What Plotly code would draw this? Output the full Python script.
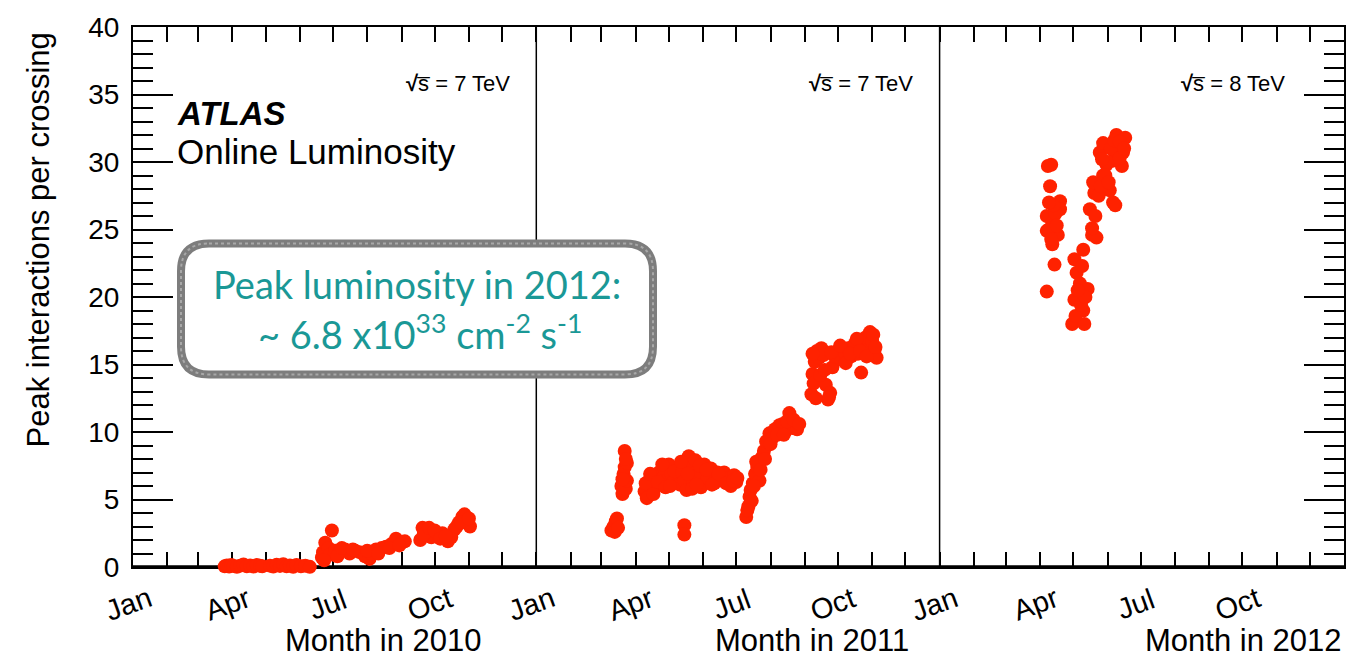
import pandas as pd
import plotly.graph_objects as go

# ---------------------------------------------------------------------------
# Peak number of interactions per bunch crossing (online luminosity)
# ---------------------------------------------------------------------------
years = [2010, 2011, 2012]
energies = ["7", "7", "8"]
month_labels = ["Jan", "Apr", "Jul", "Oct"]

dates_2010 = [
    "2010-03-25", "2010-03-27", "2010-03-29", "2010-03-31", "2010-04-02", "2010-04-05", "2010-04-08",
    "2010-04-11", "2010-04-14", "2010-04-17", "2010-04-20", "2010-04-23", "2010-04-26", "2010-04-28",
    "2010-05-05", "2010-05-08", "2010-05-11", "2010-05-14", "2010-05-17", "2010-05-20", "2010-05-23",
    "2010-05-26", "2010-05-29", "2010-06-02", "2010-06-06", "2010-06-10",
    "2010-06-21", "2010-06-22", "2010-06-24", "2010-06-27", "2010-06-28", "2010-06-30", "2010-07-03",
    "2010-07-07", "2010-07-12", "2010-07-16", "2010-07-21", "2010-07-25", "2010-07-30", "2010-08-03",
    "2010-08-05", "2010-08-09", "2010-08-14", "2010-08-18", "2010-08-23", "2010-08-27", "2010-09-01",
    "2010-09-04",
    "2010-09-18", "2010-09-20", "2010-09-24", "2010-09-28", "2010-10-04", "2010-10-08", "2010-10-13",
    "2010-10-16", "2010-10-19", "2010-10-23", "2010-10-26", "2010-10-28", "2010-10-30", "2010-11-02",
    "2010-06-23", "2010-07-05", "2010-07-09", "2010-07-19", "2010-08-01", "2010-08-11", "2010-08-21",
    "2010-08-30", "2010-09-21", "2010-09-26", "2010-10-01", "2010-10-06", "2010-10-11", "2010-10-21",
    "2010-10-25", "2010-11-01",
]
mu_2010 = [
    0.05, 0.12, 0.03, 0.15, 0.08, 0.02, 0.10,
    0.18, 0.06, 0.12, 0.04, 0.14, 0.09, 0.05,
    0.10, 0.03, 0.16, 0.08, 0.20, 0.05, 0.12,
    0.02, 0.15, 0.06, 0.10, 0.01,
    0.7, 1.1, 1.8, 1.4, 0.9, 2.7, 1.2,
    1.1, 1.3, 1.0, 1.2, 1.1, 0.8, 0.6,
    1.0, 1.3, 1.4, 1.5, 1.7, 2.1, 1.8,
    1.9,
    2.0, 2.9, 2.6, 2.2, 2.4, 2.5, 1.9,
    2.2, 2.8, 3.3, 3.7, 3.9, 3.4, 3.0,
    0.5, 0.8, 1.4, 1.3, 1.2, 1.0, 1.4,
    1.6, 2.4, 2.9, 2.7, 2.1, 2.3, 3.0,
    3.3, 3.6,
]

dates_2011 = [
    "2011-03-10", "2011-03-12", "2011-03-13", "2011-03-14", "2011-03-15", "2011-03-16",
    "2011-03-19", "2011-03-20", "2011-03-21", "2011-03-22", "2011-03-22", "2011-03-23", "2011-03-24",
    "2011-03-24",
    "2011-04-09", "2011-04-11", "2011-04-13", "2011-04-15", "2011-04-18", "2011-04-20", "2011-04-22",
    "2011-04-24", "2011-04-27", "2011-04-29", "2011-05-01", "2011-05-03", "2011-05-05", "2011-05-06",
    "2011-05-15", "2011-05-15",
    "2011-05-11", "2011-05-13", "2011-05-15", "2011-05-17", "2011-05-19", "2011-05-21", "2011-05-23",
    "2011-05-25", "2011-05-28", "2011-05-30", "2011-06-02", "2011-06-05", "2011-06-08", "2011-06-11",
    "2011-06-14", "2011-06-17", "2011-06-20", "2011-06-23", "2011-06-26", "2011-06-29", "2011-07-01",
    "2011-07-10", "2011-07-12", "2011-07-13", "2011-07-14", "2011-07-15", "2011-07-16", "2011-07-18",
    "2011-07-20", "2011-07-22", "2011-07-24", "2011-07-26", "2011-07-28", "2011-07-31", "2011-08-03",
    "2011-08-05", "2011-08-09", "2011-08-12", "2011-08-15", "2011-08-18", "2011-08-21", "2011-08-25",
    "2011-09-07", "2011-09-08", "2011-09-09", "2011-09-10", "2011-09-12", "2011-09-14", "2011-09-16",
    "2011-09-18", "2011-09-20", "2011-09-22", "2011-09-24", "2011-09-26", "2011-09-28", "2011-10-01",
    "2011-10-04", "2011-10-07", "2011-10-10", "2011-10-13", "2011-10-16", "2011-10-19", "2011-10-22",
    "2011-10-24", "2011-10-26", "2011-10-28", "2011-10-30", "2011-11-01", "2011-11-03", "2011-11-05",
    "2011-03-20", "2011-03-23", "2011-04-10", "2011-04-14", "2011-04-17", "2011-04-21", "2011-04-25",
    "2011-04-28", "2011-05-02", "2011-05-12", "2011-05-18", "2011-05-22", "2011-05-26", "2011-05-29",
    "2011-06-04", "2011-06-09", "2011-06-15", "2011-06-22", "2011-06-28", "2011-07-02",
    "2011-07-11", "2011-07-17", "2011-07-19", "2011-07-23", "2011-07-27", "2011-08-01", "2011-08-07",
    "2011-08-13", "2011-08-16", "2011-08-22", "2011-08-27",
    "2011-09-08", "2011-09-11", "2011-09-15", "2011-09-19", "2011-09-23", "2011-09-25", "2011-10-03",
    "2011-10-08", "2011-10-12", "2011-10-18", "2011-10-21", "2011-10-27", "2011-11-02", "2011-11-04",
]
mu_2011 = [
    2.7, 3.0, 2.6, 3.4, 3.6, 2.9,
    6.0, 5.4, 6.9, 8.6, 7.4, 5.8, 7.7,
    6.4,
    5.6, 5.1, 6.4, 5.8, 6.8, 6.0, 7.0,
    6.5, 7.3, 6.4, 7.6, 6.9, 6.3, 7.1,
    3.1, 2.4,
    6.1, 7.0, 6.4, 5.7, 8.2, 7.4, 6.3,
    7.9, 6.8, 5.9, 7.6, 6.6, 7.3, 6.2,
    7.0, 6.4, 7.0, 6.6, 6.0, 6.8, 6.3,
    3.7, 4.5, 5.2, 5.7, 4.9, 6.2, 6.9,
    7.4, 6.4, 8.1, 8.6, 9.3, 9.9, 9.6,
    10.2, 10.5, 10.6, 10.1, 11.4, 10.3, 10.2,
    12.8, 14.3, 13.6, 15.2, 16.0, 15.5, 16.2,
    15.7, 13.5, 12.4, 12.9, 14.8, 15.6, 16.0,
    15.4, 15.9, 16.2, 15.6, 16.5, 15.8, 14.4,
    16.4, 17.0, 16.1, 17.4, 16.7, 16.0, 15.5,
    6.5, 8.0, 6.2, 6.9, 5.4, 6.3, 7.6,
    5.9, 6.0, 7.8, 6.9, 5.8, 6.1, 7.5,
    7.2, 6.1, 6.9, 6.2, 6.4, 6.6,
    4.2, 6.0, 7.8, 7.2, 8.0, 9.1, 9.8,
    9.8, 10.8, 10.9, 10.6,
    15.8, 12.5, 14.2, 14.6, 12.6, 15.9, 16.4,
    15.1, 15.8, 16.9, 16.0, 15.6, 17.2, 16.3,
]

dates_2012 = [
    "2012-04-08", "2012-04-11", "2012-04-10", "2012-04-19", "2012-04-19", "2012-04-07", "2012-04-12",
    "2012-04-07", "2012-04-17", "2012-04-12", "2012-04-14", "2012-04-07",
    "2012-04-30", "2012-05-11", "2012-05-10", "2012-05-02", "2012-05-14", "2012-05-07", "2012-05-04",
    "2012-05-02", "2012-05-10", "2012-05-18", "2012-05-22", "2012-05-18",
    "2012-05-16", "2012-05-20", "2012-05-19", "2012-05-28", "2012-06-06", "2012-06-03", "2012-06-08",
    "2012-05-25", "2012-05-28", "2012-06-09", "2012-06-17", "2012-06-15", "2012-06-14", "2012-06-06",
    "2012-05-31", "2012-06-10",
    "2012-04-09", "2012-04-11", "2012-04-15", "2012-04-13", "2012-04-09", "2012-04-16",
    "2012-05-03", "2012-05-08", "2012-05-12", "2012-05-05", "2012-05-09",
    "2012-05-21", "2012-05-24", "2012-05-26", "2012-05-30", "2012-06-01", "2012-06-04", "2012-06-07",
    "2012-06-12", "2012-06-12", "2012-06-16", "2012-05-27", "2012-06-02",
]
mu_2012 = [
    29.7, 29.8, 28.2, 27.1, 26.5, 26.0, 25.5,
    24.9, 24.6, 23.9, 22.4, 20.4,
    18.0, 18.0, 19.0, 19.8, 20.6, 21.0, 21.8,
    22.8, 23.5, 24.6, 24.4, 25.1,
    26.5, 27.7, 28.5, 29.0, 27.0, 27.9, 26.8,
    30.7, 31.4, 32.0, 31.8, 30.7, 29.7, 30.1,
    29.8, 31.2,
    25.0, 24.3, 26.2, 26.8, 27.0, 25.3,
    18.6, 19.4, 20.0, 20.5, 22.3,
    26.0, 27.5, 28.2, 29.0, 30.0, 31.0, 31.6,
    31.5, 30.3, 31.0, 30.2, 28.5,
]

# Frame geometry in pixels (plot area 133..1344 x 23..567)
L, R, T, B = 133, 1344, 23, 567
W, H = R - L, B - T


def fx(px):
    return (px - L) / W


def fy(py):
    return (B - py) / H


RED = "#ff2200"
TEAL = "#1a9896"
FONT = "Liberation Sans"

fig = go.Figure()
for d, v in [(dates_2010, mu_2010), (dates_2011, mu_2011), (dates_2012, mu_2012)]:
    fig.add_trace(go.Scatter(
        x=pd.to_datetime(d), y=v, mode="markers",
        marker=dict(size=14, color=RED, line=dict(width=0)),
        cliponaxis=False, hoverinfo="skip",
    ))

month_ticks = pd.date_range(f"{years[0]}-01-01", f"{years[-1]}-12-01", freq="MS")

fig.update_layout(
    width=1362, height=658,
    margin=dict(l=L, r=1362 - R, t=T, b=658 - B),
    paper_bgcolor="white", plot_bgcolor="white",
    showlegend=False,
    font=dict(family=FONT, color="black"),
    xaxis=dict(
        type="date", range=[f"{years[0]}-01-01", f"{years[-1] + 1}-01-01"],
        tickmode="array", tickvals=month_ticks, showticklabels=False,
        ticks="inside", ticklen=15, tickwidth=1.5, tickcolor="black",
        showline=True, linecolor="black", linewidth=2, mirror="allticks",
        showgrid=False, zeroline=False, layer="below traces",
    ),
    yaxis=dict(
        range=[0, 40], tickmode="array", tickvals=list(range(0, 41, 5)),
        ticks="inside", ticklen=40, tickwidth=1.5, tickcolor="black",
        minor=dict(dtick=1, ticks="inside", ticklen=20, tickwidth=1.5, tickcolor="black"),
        showline=True, linecolor="black", linewidth=2, mirror="allticks",
        showgrid=False, zeroline=False, tickfont=dict(size=28, family=FONT),
        ticklabelstandoff=6, layer="below traces",
    ),
)

# thick baseline and year separators
fig.add_shape(type="line", xref="paper", yref="y", x0=0, x1=1, y0=0, y1=0,
              line=dict(color="black", width=3.5), layer="below")
for yr in years[1:]:
    fig.add_shape(type="line", xref="x", yref="paper", x0=f"{yr}-01-01", x1=f"{yr}-01-01",
                  y0=0, y1=1, line=dict(color="black", width=1.5))

# month labels (rotated) and per-year axis titles
for yr in years:
    for i, lab in enumerate(month_labels):
        fig.add_annotation(x=f"{yr}-{1 + 3 * i:02d}-01", xref="x", y=fy(604), yref="paper",
                           text=lab, showarrow=False, textangle=-20, xshift=-5,
                           font=dict(size=29, family=FONT), xanchor="center", yanchor="middle")

title_cx = [383, 812, 1243]
for yr, cx in zip(years, title_cx):
    fig.add_annotation(x=fx(cx), xref="paper", y=fy(641), yref="paper",
                       text=f"Month in {yr}", showarrow=False,
                       font=dict(size=31, family=FONT), xanchor="center", yanchor="middle")

# centre-of-mass energy labels
rs_right = [512, 915, 1287]
for e, xr in zip(energies, rs_right):
    fig.add_annotation(x=fx(xr), xref="paper", y=fy(80), yref="paper",
                       text=f"<b>√</b>s\u0305 = {e} TeV", showarrow=False,
                       font=dict(size=22, family=FONT), xanchor="right", yanchor="middle")

# y-axis title
fig.add_annotation(x=fx(38), xref="paper", y=fy(238), yref="paper",
                   text="Peak interactions per crossing", showarrow=False, textangle=-90,
                   font=dict(size=31, family=FONT), xanchor="center", yanchor="middle")

# experiment label
fig.add_annotation(x=fx(175), xref="paper", y=fy(110), yref="paper",
                   text="<b><i>ATLAS</i></b>", showarrow=False,
                   font=dict(size=33, family=FONT), xanchor="left", yanchor="middle")
fig.add_annotation(x=fx(175), xref="paper", y=fy(148), yref="paper",
                   text="Online Luminosity", showarrow=False,
                   font=dict(size=35, family=FONT), xanchor="left", yanchor="middle")


# rounded call-out box
def rounded_rect(x0, y0, x1, y1, r):
    pts = []
    pts.append(f"M {fx(x0 + r)} {fy(y0)}")
    pts.append(f"L {fx(x1 - r)} {fy(y0)}")
    pts.append(f"Q {fx(x1)} {fy(y0)} {fx(x1)} {fy(y0 + r)}")
    pts.append(f"L {fx(x1)} {fy(y1 - r)}")
    pts.append(f"Q {fx(x1)} {fy(y1)} {fx(x1 - r)} {fy(y1)}")
    pts.append(f"L {fx(x0 + r)} {fy(y1)}")
    pts.append(f"Q {fx(x0)} {fy(y1)} {fx(x0)} {fy(y1 - r)}")
    pts.append(f"L {fx(x0)} {fy(y0 + r)}")
    pts.append(f"Q {fx(x0)} {fy(y0)} {fx(x0 + r)} {fy(y0)}")
    return " ".join(pts) + " Z"


box = rounded_rect(181, 241, 653, 373, 28)
fig.add_shape(type="path", xref="paper", yref="paper", path=box,
              fillcolor="white", line=dict(color="#7d7d7d", width=8))
fig.add_shape(type="path", xref="paper", yref="paper", path=box,
              line=dict(color="#a8a8a8", width=2, dash="dot"))

fig.add_annotation(x=fx(417), xref="paper", y=fy(282), yref="paper",
                   text="Peak luminosity in 2012:", showarrow=False,
                   font=dict(size=38, family="Lato", color=TEAL), xanchor="center", yanchor="middle")
fig.add_annotation(x=fx(420), xref="paper", y=fy(330), yref="paper",
                   text="~ 6.8 x10<sup>33</sup> cm<sup>-2</sup> s<sup>-1</sup>", showarrow=False,
                   font=dict(size=38, family="Lato", color=TEAL), xanchor="center", yanchor="middle")

fig.write_html("out.html")
